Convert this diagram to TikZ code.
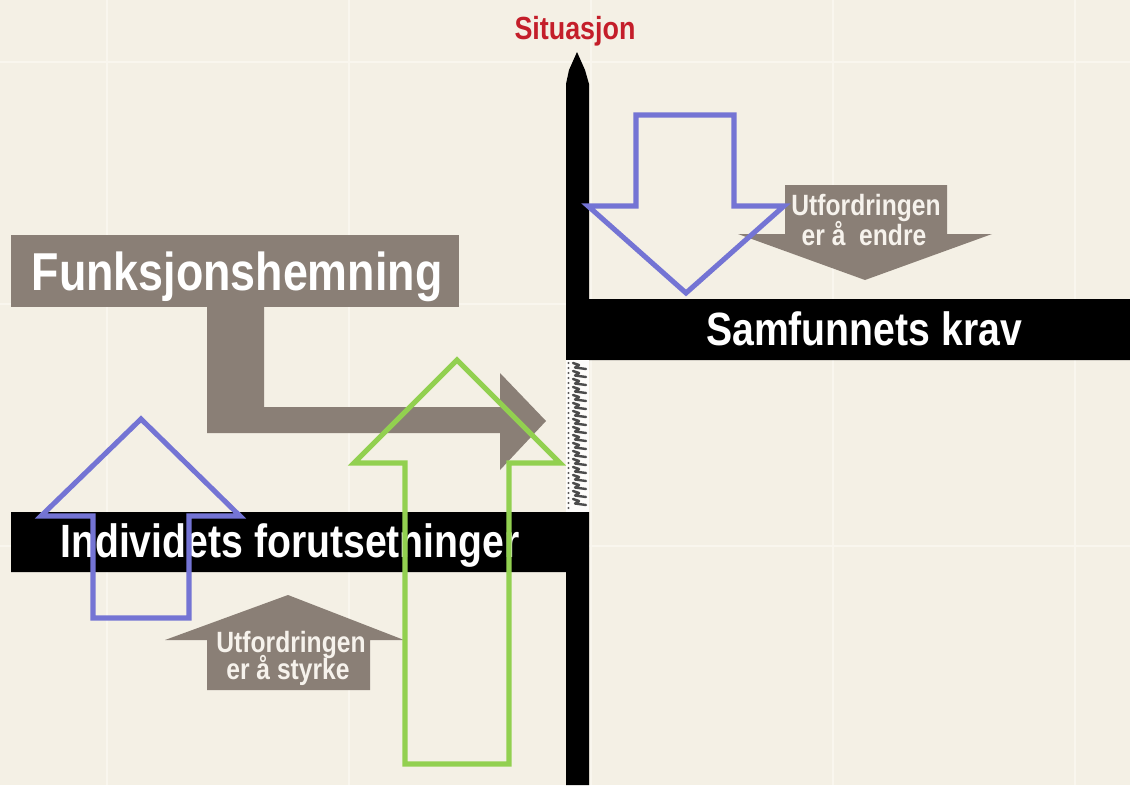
\documentclass[tikz,border=0pt]{standalone}
\usepackage{fontspec}
\newfontfamily\cond[FakeStretch=0.84]{Liberation Sans}
\definecolor{bg}{RGB}{244,240,229}
\definecolor{gridc}{RGB}{249,246,238}
\definecolor{taupe}{RGB}{138,127,118}
\definecolor{blueout}{RGB}{116,116,212}
\definecolor{greenout}{RGB}{146,208,80}
\definecolor{sitred}{RGB}{196,30,42}
\definecolor{lighttxt}{RGB}{246,242,236}
\tikzset{
  gridline/.style={draw=gridc, line width=2.2pt},
  blackbar/.style={fill=black},
  grayshape/.style={fill=taupe},
  outlinearrow/.style={line width=3.8pt, miter limit=10, line join=miter},
  bigtext/.style={inner sep=0pt, anchor=base, text=white, font=\cond\bfseries\fontsize{35}{40}\selectfont},
  smalltext/.style={inner sep=0pt, anchor=base, text=lighttxt, font=\cond\bfseries\fontsize{22}{24}\selectfont},
}
\begin{document}
\begin{tikzpicture}[x=0.75pt,y=-0.75pt]
\useasboundingbox (0,0) rectangle (1130,785);
\fill[bg] (0,0) rectangle (1130,785);
% faint grid
\foreach \gx in {107,349,591,833,1075} \draw[gridline] (\gx,0) -- (\gx,785);
\foreach \gy in {62,304,546} \draw[gridline] (0,\gy) -- (1130,\gy);

% gray shapes
\fill[grayshape] (11,235) rectangle (459,307);
\fill[grayshape] (207,306) -- (264,306) -- (264,407) -- (500,407) -- (500,373) -- (546,421) -- (500,470) -- (500,433) -- (207,433) -- cycle;
\fill[grayshape] (207,690) -- (207,640) -- (165,640) -- (288,595) -- (404,640) -- (370,640) -- (370,690) -- cycle;
\fill[grayshape] (785,185) -- (947,185) -- (947,234) -- (992,234) -- (865,280) -- (738,234) -- (785,234) -- cycle;

% black structure
\fill[blackbar] (566,84) -- (569,70) -- (577,52) -- (585,70) -- (589,84) -- (589,299) -- (1130,299) -- (1130,360) -- (566,360) -- cycle;
\fill[blackbar] (11,512) -- (589,512) -- (589,785) -- (566,785) -- (566,572) -- (11,572) -- cycle;
% broken (dotted) segment of the axis
\fill[white!80!bg] (566,360) rectangle (589,512);
\foreach \yy in {363,368,...,508} \fill[black!65] (568.5,\yy) circle (1.1);
\foreach \yy in {363,371,...,503} \draw[black!70, line width=1.8pt, line cap=round, line join=round] (573,\yy) -- (579,\yy+2) -- (575,\yy+4.5) -- (586,\yy+6);

% texts
\node[bigtext] (funk) at (237,290) {\fontsize{40}{44}\selectfont Funksjonshemning};
\node[bigtext] (samf) at (864,345) {Samfunnets krav};
\node[bigtext] (indiv) at (290,557) {Individets forutsetninger};
\node[inner sep=0pt, anchor=base, text=sitred, font=\cond\bfseries\fontsize{24}{26}\selectfont] (sit) at (575,39) {Situasjon};
\node[smalltext] (endreA) at (866,215) {Utfordringen};
\node[smalltext] (endreB) at (864,245) {er å\ \ endre};
\node[smalltext] (styrkeA) at (291,652) {Utfordringen};
\node[smalltext] (styrkeB) at (288,679) {er å styrke};

% outline arrows
\draw[outlinearrow, draw=greenout] (405,764) -- (405,463) -- (354,463) -- (457,360) -- (560,463) -- (509,463) -- (509,764) -- cycle;
\draw[outlinearrow, draw=blueout] (93,618) -- (93,516) -- (41,516) -- (141,419) -- (240,516) -- (189,516) -- (189,618) -- cycle;
\draw[outlinearrow, draw=blueout] (636,115) -- (734,115) -- (734,206) -- (784,206) -- (686,293) -- (588,206) -- (636,206) -- cycle;
\end{tikzpicture}
\end{document}
